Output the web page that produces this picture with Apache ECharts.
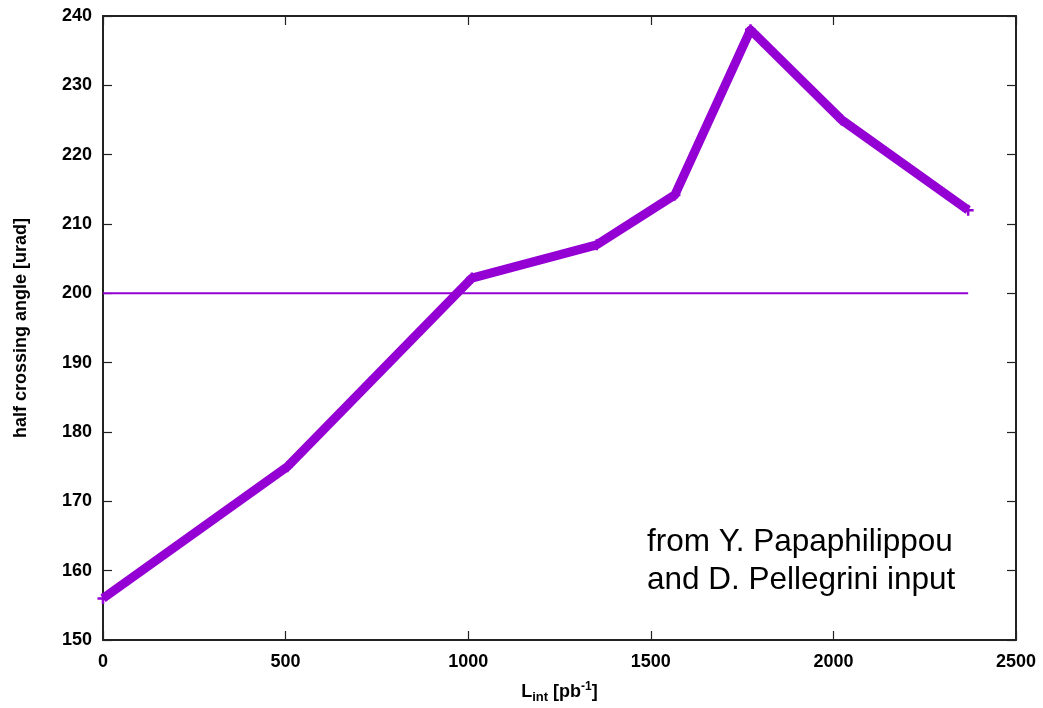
<!DOCTYPE html>
<html>
<head>
<meta charset="utf-8">
<script src="https://cdn.jsdelivr.net/npm/echarts@6/dist/echarts.min.js"></script>
<style>
  html, body { margin: 0; padding: 0; background: #fff; }
  #chart { width: 1043px; height: 708px; }
</style>
</head>
<body>
<div id="chart"></div>
<script>
// Integrated luminosity [pb^-1] and half crossing angle [urad]
const lumi  = [0, 505, 1010, 1352, 1566, 1773, 2023, 2369];
const angle = [156, 175, 202.2, 207, 214.2, 238, 225, 212];
// Reference level drawn as a thin horizontal line
const refLumi  = [0, 2369];
const refAngle = [200, 200];

const xTicks = { min: 0, max: 2500, interval: 500 };
const yTicks = { min: 150, max: 240, interval: 10 };

const violet = '#9400d3';
const axisColor = '#222';
const FONT = 'Liberation Sans, Arial, sans-serif';
const labelFont = { fontFamily: FONT, fontWeight: 'bold', fontSize: 18, color: '#000' };

const plus = 'path://M0,5 L10,5 M5,0 L5,10';

const chart = echarts.init(document.getElementById('chart'), null, { renderer: 'canvas' });

// Boxed frame: labelled axes bottom/left, mirrored tick-only axes top/right
function xAxisDef(pos, showLabel) {
  return {
    type: 'value', position: pos, min: xTicks.min, max: xTicks.max, interval: xTicks.interval,
    axisLine: { show: true, onZero: false, lineStyle: { color: axisColor, width: 2 } },
    axisTick: { show: true, inside: true, length: 9, lineStyle: { color: axisColor, width: 1.2 } },
    axisLabel: Object.assign({ show: showLabel, margin: 13, formatter: v => String(v) }, labelFont),
    splitLine: { show: false }
  };
}
function yAxisDef(pos, showLabel) {
  return {
    type: 'value', position: pos, min: yTicks.min, max: yTicks.max, interval: yTicks.interval,
    axisLine: { show: true, onZero: false, lineStyle: { color: axisColor, width: 2 } },
    axisTick: { show: true, inside: true, length: 9, lineStyle: { color: axisColor, width: 1.2 } },
    axisLabel: Object.assign({ show: showLabel, margin: 11, formatter: v => String(v) }, labelFont),
    splitLine: { show: false }
  };
}

const xMain = xAxisDef('bottom', true);
xMain.name = '{a|L}{b|int}{a| [pb}{c|-1}{a|]}';
xMain.nameLocation = 'middle';
xMain.nameGap = 39;
xMain.nameTextStyle = {
  rich: {
    a: { fontFamily: FONT, fontWeight: 'bold', fontSize: 18, color: '#000', lineHeight: 26 },
    b: { fontFamily: FONT, fontWeight: 'bold', fontSize: 13, color: '#000', lineHeight: 26, padding: [11, 0, 0, 0] },
    c: { fontFamily: FONT, fontWeight: 'bold', fontSize: 12, color: '#000', lineHeight: 26, padding: [0, 0, 10, 0] }
  }
};

const yMain = yAxisDef('left', true);
yMain.name = 'half crossing angle [urad]';
yMain.nameLocation = 'middle';
yMain.nameGap = 73;
yMain.nameTextStyle = { fontFamily: FONT, fontWeight: 'bold', fontSize: 18, color: '#000' };

chart.setOption({
  animation: false,
  backgroundColor: '#fff',
  grid: { left: 103, right: 27, top: 16, bottom: 68, containLabel: false, outerBoundsMode: 'none' },
  xAxis: [xMain, xAxisDef('top', false)],
  yAxis: [yMain, yAxisDef('right', false)],
  series: [
    {
      type: 'line',
      xAxisIndex: 0, yAxisIndex: 0,
      data: refLumi.map((x, i) => [x, refAngle[i]]),
      showSymbol: false,
      lineStyle: { color: violet, width: 2 },
      z: 2
    },
    {
      type: 'line',
      xAxisIndex: 0, yAxisIndex: 0,
      data: lumi.map((x, i) => [x, angle[i]]),
      symbol: plus,
      symbolSize: 11,
      showSymbol: true,
      itemStyle: { color: violet, borderColor: violet, borderWidth: 2.5 },
      lineStyle: { color: violet, width: 9, join: 'round', cap: 'butt' },
      z: 3
    }
  ],
  graphic: [
    {
      type: 'text', left: 647, top: 523,
      style: {
        text: 'from Y. Papaphilippou\nand D. Pellegrini input',
        font: '31.5px "Liberation Sans", Arial, sans-serif',
        fill: '#000',
        lineHeight: 38
      }
    }
  ]
});
</script>
</body>
</html>
